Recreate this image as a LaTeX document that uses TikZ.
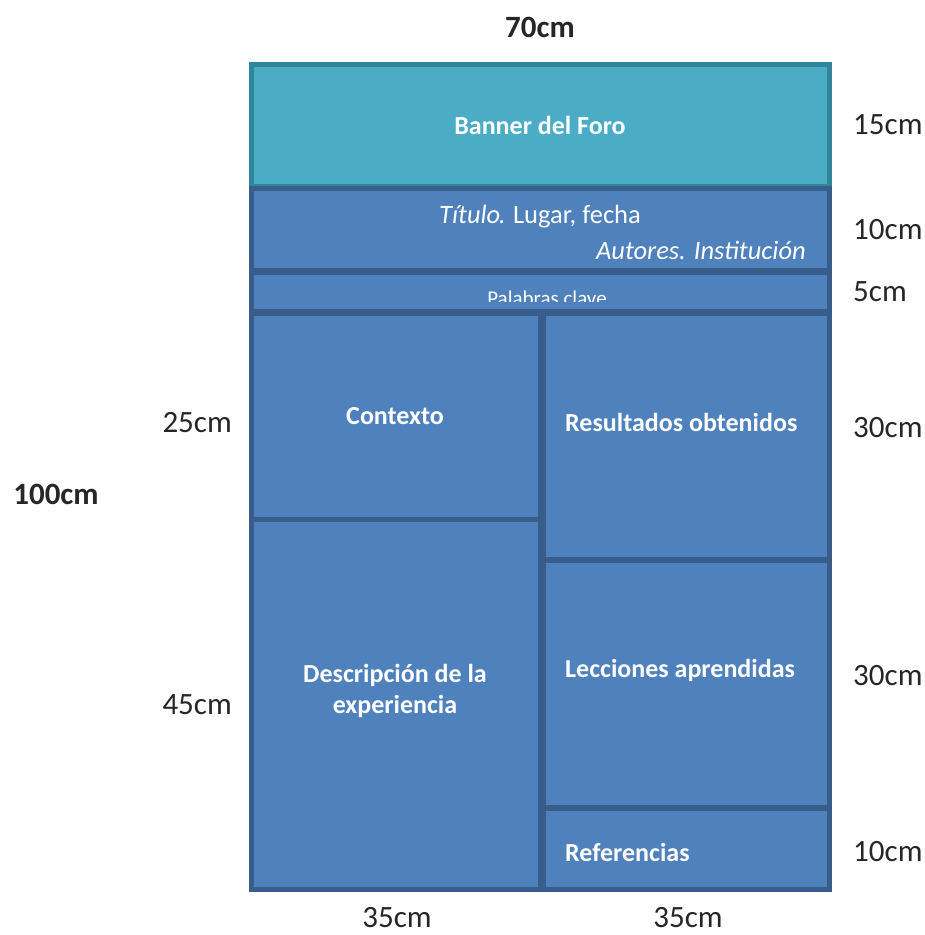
\documentclass[tikz,border=0pt]{standalone}
\usepackage{fontspec}
\setmainfont{Carlito}
\begin{document}
\begin{tikzpicture}[x=1pt,y=-1pt]
\definecolor{fillColor}{RGB}{79,129,189}
\definecolor{drawColor}{RGB}{56,93,138}
\definecolor{bannerFill}{RGB}{75,172,198}
\definecolor{bannerDraw}{RGB}{49,133,155}
\definecolor{textColor}{RGB}{38,38,38}
\tikzset{
  caja/.style={rectangle,draw=drawColor,fill=fillColor,line width=5pt,inner sep=0pt,outer sep=0pt},
  rotulo/.style={text=white,font=\fontsize{26}{31}\selectfont\bfseries,inner sep=0pt},
  medida/.style={text=textColor,font=\fontsize{31}{36}\selectfont,inner sep=0pt}
}
\path[use as bounding box,fill=white] (0,0) rectangle (925,935);

% cabecera
\node[caja,draw=bannerDraw,fill=bannerFill,minimum width=578pt,minimum height=122pt] (banner) at (540,125) {};
\node[caja,minimum width=578pt,minimum height=82pt] (titulo) at (540,229) {};
\node[caja,minimum width=578pt,minimum height=39pt] (palabras) at (540,291.5) {};

\node[rotulo] (tbanner) at (banner.center) {Banner del Foro};
\node[rotulo,font=\fontsize{26.5}{31}\selectfont] (ttitulo) at (540,217) {\textit{Título}\kern-2pt. Lugar, fecha};
\node[rotulo,font=\fontsize{26.5}{31}\selectfont\itshape,anchor=east] (tautores) at (806,250) {Autores. Institución};
\begin{scope}
\path[clip] (251,272) rectangle (829,301);
\node[rotulo,font=\fontsize{21}{25}\selectfont] (tpalabras) at (547,298) {Palabras clave};
\end{scope}

% cuerpo
\node[caja,minimum width=289pt,minimum height=206pt] (contexto) at (395.5,416) {};
\node[caja,minimum width=289pt,minimum height=370pt] (descripcion) at (395.5,704) {};
\node[caja,minimum width=286pt,minimum height=246pt] (resultados) at (686,436) {};
\node[caja,minimum width=286pt,minimum height=247pt] (lecciones) at (686,683.5) {};
\node[caja,minimum width=286pt,minimum height=81pt] (referencias) at (686,848.5) {};

\node[rotulo] (tcontexto) at (395,416) {Contexto};
\node[rotulo,align=center] (tdescripcion) at (395,691) {Descripción de la\\experiencia};
\node[rotulo,anchor=west] (tresultados) at (565,422) {Resultados obtenidos};
\node[rotulo,anchor=west] (tlecciones) at (565,670) {Lecciones aprendidas};
\node[rotulo,anchor=west] (treferencias) at (565,852) {Referencias};

% medidas
\node[medida,font=\fontsize{31}{36}\selectfont\bfseries] (ancho) at (540,27) {70cm};
\node[medida,font=\fontsize{31}{36}\selectfont\bfseries] (alto) at (56,494) {100cm};
\node[medida,anchor=west] (m15) at (853,125) {15cm};
\node[medida,anchor=west] (m10a) at (853,230) {10cm};
\node[medida,anchor=west] (m5) at (853,292) {5cm};
\node[medida,anchor=west] (m30a) at (853,428) {30cm};
\node[medida,anchor=west] (m30b) at (853,676) {30cm};
\node[medida,anchor=west] (m10b) at (853,852) {10cm};
\node[medida,anchor=east] (m25) at (232,423) {25cm};
\node[medida,anchor=east] (m45) at (232,705) {45cm};
\node[medida] (m35a) at (397,918) {35cm};
\node[medida] (m35b) at (688,918) {35cm};
\end{tikzpicture}
\end{document}
